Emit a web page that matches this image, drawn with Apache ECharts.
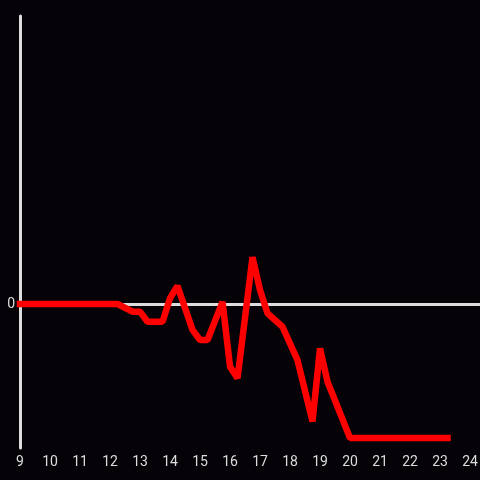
<!DOCTYPE html>
<html>
<head>
<meta charset="utf-8">
<style>html,body{margin:0;padding:0;background:#050307;}#c{width:480px;height:480px;}</style>
<script src="https://cdn.jsdelivr.net/npm/echarts@6/dist/echarts.min.js"></script>
</head>
<body>
<div id="c"></div>
<script>
// time in hours, value
const hours = [9, 12.25, 12.75, 13.0, 13.25, 13.75, 14.0, 14.25, 14.75, 15.0, 15.25, 15.75, 16.0, 16.25, 16.75, 17.0, 17.25, 17.75, 18.25, 18.75, 19.0, 19.25, 20.0, 23.25];
const values = [0, 0, -5.3, -5.3, -12.3, -12.3, 4, 12.5, -18, -25, -25, 1.5, -43.5, -51.5, 32.5, 9.7, -6.5, -15.8, -39, -81.5, -30.8, -54, -93, -93];
const xTicks = [9, 24];
const yLabels = [0];

const chart = echarts.init(document.getElementById('c'));
chart.setOption({
  backgroundColor: '#050307',
  animation: false,
  grid: {left: 20, right: 0, top: 16, bottom: 32, containLabel: false, outerBoundsMode: 'none'},
  xAxis: [{
    type: 'value', min: xTicks[0], max: 24.333, interval: 1,
    axisLine: {show: false, onZero: false}, axisTick: {show: false}, splitLine: {show: false},
    axisLabel: {color: '#dddddd', fontSize: 14, fontFamily: 'Roboto', margin: 7,
      formatter: v => (v >= xTicks[0] && v <= xTicks[1] && Number.isInteger(v)) ? String(v) : ''}
  }, {
    type: 'value', min: xTicks[0], max: 24.333, interval: 1, position: 'bottom',
    axisLine: {show: true, onZero: true, lineStyle: {color: '#dddddd', width: 3}},
    axisTick: {show: false}, splitLine: {show: false}, axisLabel: {show: false}
  }],
  yAxis: {
    type: 'value', min: -100, max: 200, interval: 100,
    axisLine: {show: true, onZero: false, lineStyle: {color: '#dddddd', width: 3}},
    axisTick: {show: false}, splitLine: {show: false},
    axisLabel: {color: '#dddddd', fontSize: 14, fontFamily: 'Roboto', margin: 5,
      formatter: v => yLabels.includes(v) ? String(v) : ''}
  },
  series: [{
    type: 'line', xAxisIndex: 0,
    data: hours.map((h, i) => [h, values[i]]),
    showSymbol: false, symbol: 'none',
    lineStyle: {color: '#ff0000', width: 6.5, cap: 'square', join: 'bevel'},
    z: 5
  }]
});
</script>
</body>
</html>
